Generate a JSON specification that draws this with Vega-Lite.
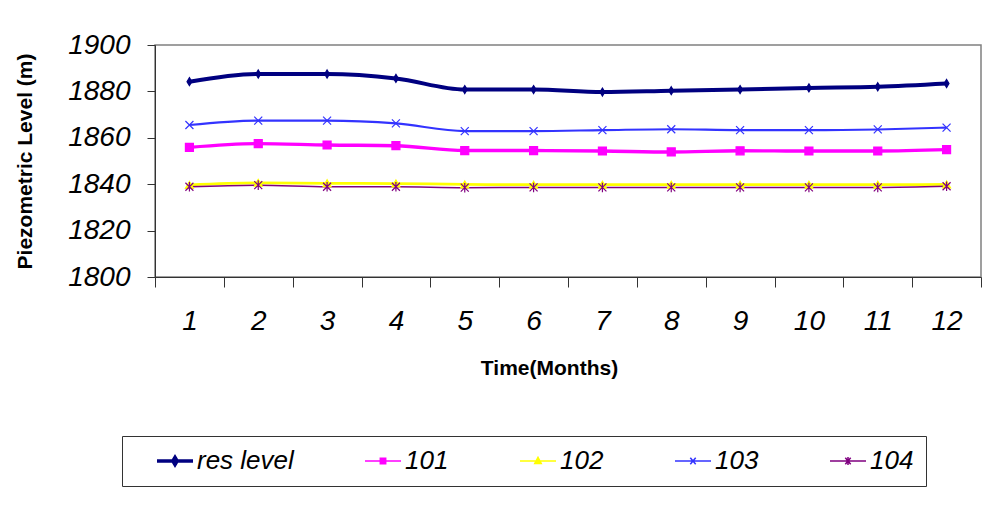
{
  "$schema": "https://vega.github.io/schema/vega-lite/v6.json",
  "width": 826,
  "height": 232,
  "autosize": {"type": "none"},
  "padding": {"left": 155, "top": 45, "right": 7, "bottom": 237},
  "background": "white",
  "config": {"view": {"stroke": "#808080", "strokeWidth": 1.5}, "font": "Liberation Sans"},
  "resolve": {"legend": {"color": "independent"}},
  "datasets": {
    "levels": [
      {"month": 1, "series": "res level", "value": 1884.2},
      {"month": 2, "series": "res level", "value": 1887.5},
      {"month": 3, "series": "res level", "value": 1887.5},
      {"month": 4, "series": "res level", "value": 1885.6},
      {"month": 5, "series": "res level", "value": 1880.8},
      {"month": 6, "series": "res level", "value": 1880.8},
      {"month": 7, "series": "res level", "value": 1879.7},
      {"month": 8, "series": "res level", "value": 1880.3},
      {"month": 9, "series": "res level", "value": 1880.8},
      {"month": 10, "series": "res level", "value": 1881.5},
      {"month": 11, "series": "res level", "value": 1882.0},
      {"month": 12, "series": "res level", "value": 1883.4},
      {"month": 1, "series": "101", "value": 1855.9},
      {"month": 2, "series": "101", "value": 1857.5},
      {"month": 3, "series": "101", "value": 1856.9},
      {"month": 4, "series": "101", "value": 1856.6},
      {"month": 5, "series": "101", "value": 1854.5},
      {"month": 6, "series": "101", "value": 1854.5},
      {"month": 7, "series": "101", "value": 1854.3},
      {"month": 8, "series": "101", "value": 1853.9},
      {"month": 9, "series": "101", "value": 1854.4},
      {"month": 10, "series": "101", "value": 1854.3},
      {"month": 11, "series": "101", "value": 1854.3},
      {"month": 12, "series": "101", "value": 1854.9},
      {"month": 1, "series": "102", "value": 1839.7},
      {"month": 2, "series": "102", "value": 1840.6},
      {"month": 3, "series": "102", "value": 1840.4},
      {"month": 4, "series": "102", "value": 1840.3},
      {"month": 5, "series": "102", "value": 1839.9},
      {"month": 6, "series": "102", "value": 1839.8},
      {"month": 7, "series": "102", "value": 1839.8},
      {"month": 8, "series": "102", "value": 1839.8},
      {"month": 9, "series": "102", "value": 1839.8},
      {"month": 10, "series": "102", "value": 1839.8},
      {"month": 11, "series": "102", "value": 1839.8},
      {"month": 12, "series": "102", "value": 1839.9},
      {"month": 1, "series": "103", "value": 1865.5},
      {"month": 2, "series": "103", "value": 1867.4},
      {"month": 3, "series": "103", "value": 1867.4},
      {"month": 4, "series": "103", "value": 1866.2},
      {"month": 5, "series": "103", "value": 1862.9},
      {"month": 6, "series": "103", "value": 1862.9},
      {"month": 7, "series": "103", "value": 1863.3},
      {"month": 8, "series": "103", "value": 1863.7},
      {"month": 9, "series": "103", "value": 1863.3},
      {"month": 10, "series": "103", "value": 1863.3},
      {"month": 11, "series": "103", "value": 1863.6},
      {"month": 12, "series": "103", "value": 1864.4},
      {"month": 1, "series": "104", "value": 1838.9},
      {"month": 2, "series": "104", "value": 1839.6},
      {"month": 3, "series": "104", "value": 1838.9},
      {"month": 4, "series": "104", "value": 1838.9},
      {"month": 5, "series": "104", "value": 1838.5},
      {"month": 6, "series": "104", "value": 1838.6},
      {"month": 7, "series": "104", "value": 1838.6},
      {"month": 8, "series": "104", "value": 1838.6},
      {"month": 9, "series": "104", "value": 1838.6},
      {"month": 10, "series": "104", "value": 1838.6},
      {"month": 11, "series": "104", "value": 1838.6},
      {"month": 12, "series": "104", "value": 1839.1}
    ]
  },
  "data": {"name": "levels"},
  "encoding": {
    "x": {
      "field": "month",
      "type": "ordinal",
      "scale": {"type": "band", "paddingInner": 0, "paddingOuter": 0},
      "axis": {
        "title": "Time(Months)",
        "labelAngle": 0,
        "tickBand": "extent",
        "labelFont": "Liberation Sans",
        "labelFontSize": 28,
        "labelFontStyle": "italic",
        "labelColor": "black",
        "labelPadding": 20,
        "tickSize": 10,
        "tickColor": "#333333",
        "domainColor": "#333333",
        "titleFont": "Liberation Sans",
        "titleFontSize": 21,
        "titleFontWeight": "bold",
        "titleColor": "black",
        "titleX": 394,
        "titleY": 91,
        "titleBaseline": "middle"
      }
    },
    "y": {
      "field": "value",
      "type": "quantitative",
      "scale": {"domain": [1800, 1900], "zero": false, "nice": false},
      "axis": {
        "title": "Piezometric Level (m)",
        "values": [1800, 1820, 1840, 1860, 1880, 1900],
        "format": "d",
        "grid": false,
        "labelFont": "Liberation Sans",
        "labelFontSize": 28,
        "labelFontStyle": "italic",
        "labelColor": "black",
        "labelPadding": 17,
        "tickSize": 8,
        "tickColor": "#333333",
        "domainColor": "#333333",
        "titleFont": "Liberation Sans",
        "titleFontSize": 21,
        "titleFontWeight": "bold",
        "titleColor": "black",
        "titleX": -130,
        "titleY": 116,
        "titleBaseline": "middle"
      }
    }
  },
  "layer": [
    {
      "mark": {"type": "line", "interpolate": "monotone"},
      "encoding": {
        "color": {
          "field": "series",
          "type": "nominal",
          "scale": {"domain": ["res level", "101", "102", "103", "104"], "range": ["#000080", "#FF00FF", "#FFFF00", "#3333FF", "#800080"]},
          "legend": {
            "title": null,
            "orient": "none",
            "legendX": -33,
            "legendY": 391,
            "direction": "horizontal",
            "columns": 5,
            "columnPadding": 48,
            "padding": 12,
            "strokeColor": "#333333",
            "fillColor": "white",
            "symbolSize": 1296,
            "symbolOffset": 28,
            "labelOffset": 9,
            "labelFont": "Liberation Sans",
            "labelFontSize": 26,
            "labelFontStyle": "italic",
            "labelColor": "black",
            "labelLimit": 0,
            "encode": {
              "symbols": {
                "update": {
                  "shape": {"signal": "datum.value === 'res level' ? 'M-1,0H1M0,-0.2L0.12,0L0,0.2L-0.12,0Z' : datum.value === '101' ? 'M-1,0H1M-0.15,-0.15H0.15V0.15H-0.15Z' : datum.value === '102' ? 'M-1,0H1M0,-0.2L0.18,0.14H-0.18Z' : datum.value === '103' ? 'M-1,0H1M-0.15,-0.18L0.15,0.18M-0.15,0.18L0.15,-0.18' : 'M-1,0H1M-0.15,-0.18L0.15,0.18M-0.15,0.18L0.15,-0.18M0,-0.22V0.22'"},
                  "stroke": {"scale": "color", "field": "value"},
                  "fill": {"scale": "color", "field": "value"},
                  "strokeWidth": {"signal": "datum.value === 'res level' ? 3.5 : 1.5"},
                  "opacity": {"value": 1},
                  "fillOpacity": {"value": 1},
                  "strokeOpacity": {"value": 1},
                  "size": {"value": 1296}
                }
              }
            }
          }
        },
        "strokeWidth": {
          "field": "series",
          "type": "nominal",
          "scale": {"domain": ["res level", "101", "102", "103", "104"], "range": [4, 1.5, 1.5, 1.5, 1.5]},
          "legend": null
        }
      }
    },
    {
      "mark": {"type": "point", "filled": true, "size": 64, "strokeWidth": 1.2, "opacity": 1},
      "encoding": {
        "color": {
          "field": "series",
          "type": "nominal",
          "scale": {"domain": ["res level", "101", "102", "103", "104"], "range": ["#000080", "#FF00FF", "#FFFF00", "#3333FF", "#800080"]},
          "legend": null
        },
        "shape": {
          "field": "series",
          "type": "nominal",
          "scale": {
            "domain": ["res level", "101", "102", "103", "104"],
            "range": ["M0,-1L0.6,0L0,1L-0.6,0Z", "square", "triangle-up", "M-1,-1L1,1M-1,1L1,-1", "M-1,-1L1,1M-1,1L1,-1M0,-1.2V1.2"]
          },
          "legend": null
        },
        "stroke": {
          "field": "series",
          "type": "nominal",
          "scale": {"domain": ["res level", "101", "102", "103", "104"], "range": ["#000080", "#FF00FF", "#FFFF00", "#3333FF", "#800080"]},
          "legend": null
        }
      }
    }
  ]
}
